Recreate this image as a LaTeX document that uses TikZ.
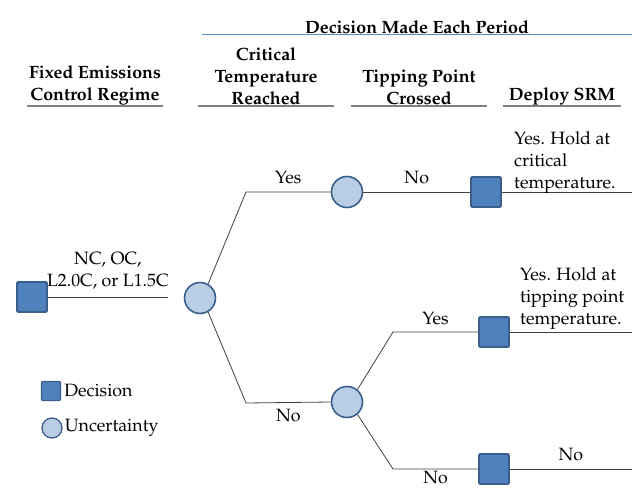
\documentclass[tikz,border=0pt]{standalone}
\usepackage[T1]{fontenc}
\usepackage{mathpazo}
\usepackage{xcolor}
\definecolor{DecBlue}{HTML}{4F81BD}
\definecolor{DecEdge}{HTML}{3A5F8C}
\definecolor{UncBlue}{HTML}{B9CDE5}
\definecolor{RuleGray}{HTML}{808080}
\definecolor{TopBlue}{HTML}{5B8FD0}

\tikzset{
  decision/.style={draw=DecEdge, fill=DecBlue, line width=1.6pt, rounded corners=1pt,
    minimum size=30pt, inner sep=0pt},
  chance/.style={circle, draw=DecEdge, fill=UncBlue, line width=1.6pt,
    minimum size=31pt, inner sep=0pt},
  branch/.style={draw=black!75, line width=0.8pt},
  colhead/.style={font=\fontsize{17.8}{22}\selectfont\bfseries, align=center, anchor=south, inner sep=1pt},
  headrule/.style={draw=RuleGray, line width=1.8pt},
  outcome/.style={align=left, inner sep=0pt},
}

\begin{document}
\begin{tikzpicture}[x=1pt, y=-1pt, every node/.style={font=\fontsize{17.8}{22}\selectfont}]
  \useasboundingbox (0,0) rectangle (635,489);

  % column headings
  \node[colhead, minimum width=135pt] (hfix) at (95,106) {Fixed Emissions\\Control Regime};
  \node[colhead, minimum width=136pt] (hcrit) at (266,106) {Critical\\Temperature\\Reached};
  \node[colhead, minimum width=136pt] (htip) at (419,106) {Tipping Point\\Crossed};
  \node[colhead, minimum width=117pt] (hsrm) at (562,106) {Deploy SRM};
  \draw[headrule] (hfix.south west) -- (hfix.south east);
  \draw[headrule] (hcrit.south west) -- (hcrit.south east);
  \draw[headrule] (htip.south west) -- (htip.south east);
  \draw[headrule] (hsrm.south west) -- (hsrm.south east);
  \node[colhead, minimum width=430pt] (hper) at (417,35) {Decision Made Each Period};
  \draw[TopBlue, line width=1pt] (hper.south west) -- (hper.south east);

  % tree nodes
  \node[decision] (d0) at (32,297) {};
  \node[chance] (c1) at (200,298) {};
  \node[chance] (c2) at (347,192) {};
  \node[chance] (c3) at (347,402) {};
  \node[decision] (d1) at (486,192) {};
  \node[decision] (d2) at (494,332) {};
  \node[decision] (d3) at (494,469) {};
  \coordinate (e0) at (168,297);
  \coordinate (k1) at (246,192);
  \coordinate (k2) at (246,403);
  \coordinate (k3) at (393,332);
  \coordinate (k4) at (393,469);
  \coordinate (e1) at (632,192);
  \coordinate (e2) at (632,332);
  \coordinate (e3) at (632,469);

  % branches
  \draw[branch] (d0.east) -- (e0) node[midway, above=4pt, align=center] {NC, OC,\\L2.0C, or L1.5C};
  \draw[branch] (c1.60) -- (k1) -- (c2.west) node[midway, above=4pt] {Yes};
  \draw[branch] (c1.-60) -- (k2) -- (c3.west) node[midway, below=3pt] {No};
  \draw[branch] (c2.east) -- (d1.west) node[midway, above=4pt] {No};
  \draw[branch] (c3.50) -- (k3) -- (d2.west) node[midway, above=3pt] {Yes};
  \draw[branch] (c3.-50) -- (k4) -- (d3.west) node[midway, below=1pt, inner sep=1pt] {No};
  \draw[branch] (d1.east) -- (e1);
  \draw[branch] (d2.east) -- (e2);
  \draw[branch] (d3.east) -- (e3) node[midway, above=4pt] {No};

  % outcome texts
  \node[outcome, anchor=south west] (o1) at (514,194) {Yes. Hold at\\critical\\temperature.};
  \node[outcome, anchor=south west] (o2) at (520,330) {Yes. Hold at\\tipping point\\temperature.};

  % legend
  \node[decision, minimum size=19pt, line width=1.3pt] (ld) at (51,391) {};
  \node[anchor=west, inner sep=3pt] (ldt) at (ld.east) {Decision};
  \node[chance, minimum size=20pt, line width=1.3pt] (lc) at (52,428) {};
  \node[anchor=west, inner sep=2pt] (lct) at (lc.east) {Uncertainty};
\end{tikzpicture}
\end{document}
